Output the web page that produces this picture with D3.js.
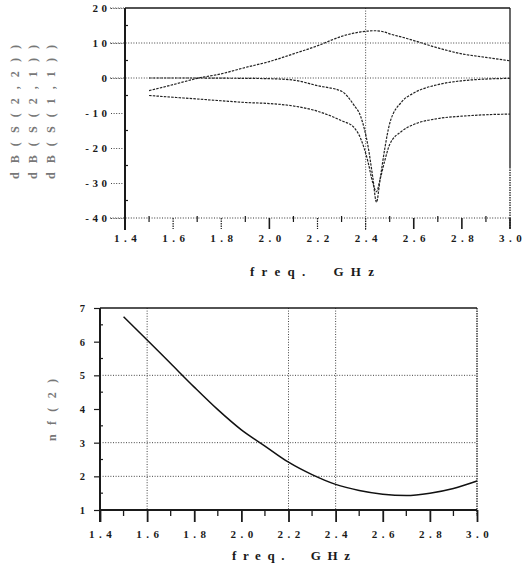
<!DOCTYPE html>
<html><head><meta charset="utf-8">
<script src="https://cdn.jsdelivr.net/npm/d3@7"></script>
<style>html,body{margin:0;padding:0;background:#fff}</style>
</head><body>
<svg id="c" width="529" height="569"></svg>
<script>
// ---------- data ----------
const freq = [1.5,1.6,1.7,1.8,1.9,2.0,2.1,2.2,2.3,2.35,2.38,2.41,2.43,2.445,2.46,2.48,2.5,2.55,2.6,2.7,2.8,2.9,3.0];
const s21 = [-3.6,-1.9,-0.1,1.2,3.0,4.7,6.9,9.2,11.9,12.8,13.2,13.4,13.5,13.5,13.4,13.1,12.6,11.7,10.7,8.6,6.9,5.9,4.9];
const s11 = [0,0,0,-0.05,-0.1,-0.2,-0.6,-2.2,-3.8,-7.6,-11.1,-19.5,-28.5,-35.5,-29,-20,-13,-6.8,-4.3,-1.9,-0.8,-0.3,-0.1];
const s22 = [-5.0,-5.5,-6.0,-6.5,-7.0,-7.3,-8.0,-9.5,-12.2,-14.0,-17.4,-24.0,-30.0,-32.5,-29,-23.5,-19.0,-15.2,-13.3,-11.6,-10.9,-10.5,-10.3];
const nfFreq = [1.5,1.6,1.7,1.8,1.9,2.0,2.1,2.2,2.3,2.4,2.5,2.6,2.7,2.8,2.9,3.0];
const nf = [6.74,6.05,5.35,4.65,3.98,3.38,2.9,2.42,2.05,1.76,1.58,1.47,1.43,1.5,1.64,1.86];

const topYTicks = [20,10,0,-10,-20,-30,-40];
const xTicks = [1.4,1.6,1.8,2.0,2.2,2.4,2.6,2.8,3.0];
const xTickLabels = ["1.4","1.6","1.8","2.0","2.2","2.4","2.6","2.8","3.0"];
const botYTicks = [1,2,3,4,5,6,7];
const topTitles = ["dB(S(2,2))","dB(S(2,1))","dB(S(1,1))"];
const botTitle = "nf(2)";
const xTitle = "freq.  GHz";

// ---------- drawing ----------
const svg = d3.select('#c');
svg.append('rect').attr('width',529).attr('height',569).attr('fill','#fff');
const LBL = "'Liberation Serif', 'DejaVu Serif', serif";
const dotted = "1,1.6";
const ink = "#1a1a1a";

function tickLabels(g, ls){
  g.selectAll('text').attr('font-family',LBL).attr('font-weight','bold')
    .attr('font-size',11).attr('fill',ink).style('letter-spacing',ls+'px');
}

// ===== TOP CHART =====
const tx = d3.scaleLinear().domain([1.4,3.0]).range([125,510]);
const ty = d3.scaleLinear().domain([-40,20]).range([218,8]);
const T = svg.append('g');

[10,0].forEach(v=>{
  T.append('line').attr('x1',110).attr('x2',tx(3.0)).attr('y1',ty(v)).attr('y2',ty(v))
   .attr('stroke','#444').attr('stroke-dasharray',dotted);
});
T.append('line').attr('x1',110).attr('x2',tx(3.0)).attr('y1',ty(-40)).attr('y2',ty(-40))
 .attr('stroke','#333').attr('stroke-dasharray',dotted).attr('stroke-width',1.2);
T.append('line').attr('x1',tx(2.4)).attr('x2',tx(2.4)).attr('y1',ty(20)).attr('y2',230)
 .attr('stroke','#444').attr('stroke-dasharray',dotted);

const yAxT = T.append('g').attr('transform',`translate(${tx(1.4)},0)`)
  .call(d3.axisLeft(ty).tickValues(topYTicks).tickSize(15).tickPadding(3).tickFormat(d=>String(d)));
yAxT.select('.domain').remove();
yAxT.selectAll('line').attr('stroke','#444').attr('stroke-dasharray',dotted);
tickLabels(yAxT, 3.5);
yAxT.selectAll('text').attr('dx',3.5);
d3.range(-35,20,10).forEach(v=>{
  T.append('line').attr('x1',tx(1.4)).attr('x2',tx(1.4)+3).attr('y1',ty(v)).attr('y2',ty(v))
   .attr('stroke',ink).attr('stroke-width',1.2);
});
const xAxT = T.append('g').attr('transform',`translate(0,${ty(-40)})`)
  .call(d3.axisBottom(tx).tickValues(xTicks).tickSize(0).tickPadding(16)
  .tickFormat((d,i)=>xTickLabels[i]));
xAxT.select('.domain').remove();
tickLabels(xAxT, 4.5);
xAxT.selectAll('text').attr('dx',2.2);
const dottedTop = [1.6,1.8,2.2,2.4];
xTicks.slice(1).forEach(v=>{
  T.append('line').attr('x1',tx(v)).attr('x2',tx(v)).attr('y1',ty(-40)).attr('y2',229)
   .attr('stroke',ink).attr('stroke-width',dottedTop.includes(v)?1.2:1.6)
   .attr('stroke-dasharray',dottedTop.includes(v)?"1.5,1":null);
});
d3.range(1.5,3.0,0.2).forEach(v=>{
  T.append('line').attr('x1',tx(v)).attr('x2',tx(v)).attr('y1',ty(-40)-2).attr('y2',ty(-40)+4)
   .attr('stroke',ink).attr('stroke-width',1.2);
});
T.append('line').attr('x1',tx(1.4)).attr('x2',tx(1.4)).attr('y1',ty(20)).attr('y2',230)
 .attr('stroke',ink).attr('stroke-width',2);
T.append('line').attr('x1',110).attr('x2',tx(1.4)).attr('y1',ty(20)).attr('y2',ty(20))
 .attr('stroke','#444').attr('stroke-dasharray',dotted);
T.append('line').attr('x1',tx(1.4)).attr('x2',tx(3.0)).attr('y1',ty(20)).attr('y2',ty(20))
 .attr('stroke',ink).attr('stroke-width',1.6);
T.append('line').attr('x1',tx(3.0)).attr('x2',tx(3.0)).attr('y1',ty(20)).attr('y2',167)
 .attr('stroke',ink).attr('stroke-width',1.3);
T.append('line').attr('x1',tx(3.0)).attr('x2',tx(3.0)).attr('y1',167).attr('y2',229)
 .attr('stroke',ink).attr('stroke-width',1.3).attr('stroke-dasharray',"1.5,1");

const lineT = (arr)=> d3.line().x((d,i)=>tx(freq[i])).y(d=>ty(d)).curve(d3.curveMonotoneX)(arr);
[s21,s11,s22].forEach(arr=>{
  T.append('path').attr('d',lineT(arr)).attr('fill','none').attr('stroke','#222')
   .attr('stroke-width',1.2).attr('stroke-dasharray',"2.5,1.2");
});

topTitles.forEach((t,i)=>{
  const cx = [15,33,51][i], cy = 112;
  T.append('text').attr('transform',`translate(${cx},${cy}) rotate(-90)`)
   .attr('text-anchor','middle').attr('dominant-baseline','central')
   .attr('font-family',LBL).attr('font-weight','bold').attr('font-size',12).attr('fill','#777')
   .attr('textLength',134).attr('lengthAdjust','spacing').text(t);
});
T.append('text').attr('x',312).attr('y',276).attr('text-anchor','middle')
 .attr('font-family',LBL).attr('font-weight','bold').attr('font-size',13).attr('fill',ink)
 .attr('textLength',124).attr('lengthAdjust','spacing').style('white-space','pre').text(xTitle);

// ===== BOTTOM CHART =====
const bx = d3.scaleLinear().domain([1.4,3.0]).range([100,477]);
const by = d3.scaleLinear().domain([1,7]).range([510,308]);
const B = svg.append('g');

[5,3,2].forEach(v=>{
  B.append('line').attr('x1',bx(1.4)).attr('x2',bx(3.0)).attr('y1',by(v)).attr('y2',by(v))
   .attr('stroke','#444').attr('stroke-dasharray',dotted);
});
[1.6,2.2,2.4].forEach(v=>{
  B.append('line').attr('x1',bx(v)).attr('x2',bx(v)).attr('y1',by(7)).attr('y2',by(1))
   .attr('stroke','#444').attr('stroke-dasharray',dotted);
});
const yAxB = B.append('g').attr('transform',`translate(${bx(1.4)},0)`)
  .call(d3.axisLeft(by).tickValues(botYTicks).tickSize(6).tickPadding(9).tickFormat(d=>String(d)));
yAxB.select('.domain').remove();
yAxB.selectAll('line').attr('stroke',ink).attr('stroke-width',1.2);
tickLabels(yAxB, 0);
yAxB.selectAll('text').attr('font-size',10.5);
d3.range(1.5,7,1).forEach(v=>{
  B.append('line').attr('x1',bx(1.4)).attr('x2',bx(1.4)+3).attr('y1',by(v)).attr('y2',by(v))
   .attr('stroke',ink).attr('stroke-width',1.2);
});
const xAxB = B.append('g').attr('transform',`translate(0,${by(1)})`)
  .call(d3.axisBottom(bx).tickValues(xTicks).tickSize(12).tickPadding(8)
  .tickFormat((d,i)=>xTickLabels[i]));
xAxB.select('.domain').remove();
xAxB.selectAll('line').attr('stroke',ink).attr('stroke-width',1.8);
tickLabels(xAxB, 4.5);
xAxB.selectAll('text').attr('dx',2.2);
d3.range(1.5,3.0,0.2).forEach(v=>{
  B.append('line').attr('x1',bx(v)).attr('x2',bx(v)).attr('y1',by(1)).attr('y2',by(1)+6)
   .attr('stroke',ink).attr('stroke-width',1.3);
});
B.append('line').attr('x1',bx(1.4)).attr('x2',bx(1.4)).attr('y1',by(7)).attr('y2',522)
 .attr('stroke',ink).attr('stroke-width',2);
B.append('line').attr('x1',bx(1.4)).attr('x2',bx(3.0)).attr('y1',by(1)).attr('y2',by(1))
 .attr('stroke',ink).attr('stroke-width',2);
B.append('line').attr('x1',bx(1.4)).attr('x2',bx(3.0)).attr('y1',by(7)).attr('y2',by(7))
 .attr('stroke',ink).attr('stroke-width',1.6);
B.append('line').attr('x1',bx(3.0)).attr('x2',bx(3.0)).attr('y1',by(7)).attr('y2',by(1)+6)
 .attr('stroke',ink).attr('stroke-width',1.3).attr('stroke-dasharray',"1.5,1");

B.append('path')
 .attr('d', d3.line().x((d,i)=>bx(nfFreq[i])).y(d=>by(d)).curve(d3.curveMonotoneX)(nf))
 .attr('fill','none').attr('stroke','#111').attr('stroke-width',1.5);

B.append('text').attr('transform',`translate(52,410) rotate(-90)`)
 .attr('text-anchor','middle').attr('dominant-baseline','central')
 .attr('font-family',LBL).attr('font-weight','bold').attr('font-size',12).attr('fill','#777')
 .attr('textLength',62).attr('lengthAdjust','spacing').text(botTitle);
B.append('text').attr('x',291).attr('y',560).attr('text-anchor','middle')
 .attr('font-family',LBL).attr('font-weight','bold').attr('font-size',13).attr('fill',ink)
 .attr('textLength',118).attr('lengthAdjust','spacing').style('white-space','pre').text(xTitle);
</script>
</body></html>
